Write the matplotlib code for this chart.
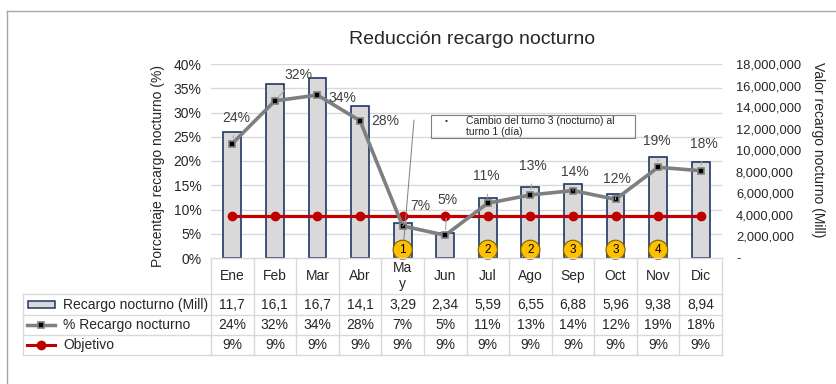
import numpy as np
import matplotlib
matplotlib.use("Agg")
import matplotlib.pyplot as plt
from matplotlib.lines import Line2D
from matplotlib.patches import Rectangle
from matplotlib.ticker import PercentFormatter, FuncFormatter
from matplotlib.transforms import blended_transform_factory

plt.rcParams['font.family'] = ['Liberation Sans', 'DejaVu Sans']

# datos
meses = ["Ene", "Feb", "Mar", "Abr", "Ma\ny", "Jun", "Jul", "Ago", "Sep", "Oct", "Nov", "Dic"]
recargo_mill = [11.7, 16.1, 16.7, 14.1, 3.29, 2.34, 5.59, 6.55, 6.88, 5.96, 9.38, 8.94]
pct_recargo = [0.236, 0.324, 0.336, 0.283, 0.066, 0.047, 0.113, 0.130, 0.139, 0.121, 0.187, 0.180]
objetivo = [0.087] * 12
# etapas marcadas con circulos (mes, numero)
etapas_mes = [4, 6, 7, 8, 9, 10]
etapas_num = ["1", "2", "2", "3", "3", "4"]
nota = "Cambio del turno 3 (nocturno) al\nturno 1 (día)"

# posicion de las etiquetas de % (pixeles) y si llevan linea guia
lbl_off = [(4, 26), (24, 26), (25, -3), (25, 0), (18, 20), (2, 35),
           (-1, 27), (3, 29), (2, 19), (1, 20), (-1, 26), (3, 27)]
lbl_guia = [True, True, False, False, True, True, True, True, True, True, True, True]

W, H = 836, 384
fig = plt.figure(figsize=(W / 100, H / 100), dpi=100)
fig.patch.set_facecolor("white")

def fx(px):
    return px / W

def fy(py):
    return 1 - py / H

ax2 = fig.add_axes([fx(211), fy(258), fx(722) - fx(211), fy(64) - fy(258)])
ax = ax2.twinx()
ax.set_position(ax2.get_position())
ax.set_zorder(ax2.get_zorder() + 1)
ax.patch.set_visible(False)

x = np.arange(len(meses))
txt = "#262626"

# barras en el eje derecho
valores = np.array(recargo_mill) * 1e6
ax2.set_ylim(0, 18e6)
for g in np.arange(0.05, 0.41, 0.05):
    ax2.axhline(g * 18e6 / 0.40, color="#D9D9D9", lw=1, zorder=0)
ax2.bar(x, valores, width=0.42, color="#D9D9D9", edgecolor="#203864", lw=1.2, zorder=2)
ax2.set_xlim(-0.5, 11.5)
ax2.yaxis.tick_right()
ax2.set_yticks(np.arange(0, 18e6 + 1, 2e6))
ax2.yaxis.set_major_formatter(FuncFormatter(lambda v, _: "-" if v == 0 else f"{v:,.0f}"))
ax2.tick_params(axis="y", length=0, pad=10, labelsize=9.3, labelcolor=txt,
                left=False, labelleft=False, right=False, labelright=True)
ax2.set_xticks([])

# lineas en el eje izquierdo
ax.set_ylim(0, 0.40)
ax.set_xlim(-0.5, 11.5)
ax.plot(x, objetivo, color="#C00000", lw=2.3, marker="o", ms=6, zorder=3)
ax.plot(x, pct_recargo, color="#7F7F7F", lw=2.6, marker="s", ms=5,
        mfc="black", mec="#7F7F7F", mew=1.2, zorder=4)
ax.yaxis.tick_left()
ax.set_yticks(np.arange(0, 0.41, 0.05))
ax.yaxis.set_major_formatter(PercentFormatter(1.0, decimals=0))
ax.tick_params(axis="y", length=0, pad=7, labelsize=10, labelcolor=txt,
               left=False, labelleft=True, right=False, labelright=False)
ax.set_xticks([])
for a in (ax, ax2):
    for s in a.spines.values():
        s.set_visible(False)

# etiquetas de datos
for i, p in enumerate(pct_recargo):
    props = None
    if lbl_guia[i]:
        props = dict(arrowstyle="-", color="#A6A6A6", lw=0.8, shrinkA=6, shrinkB=4)
    ax.annotate(f"{p:.0%}", (x[i], p), xytext=lbl_off[i], textcoords="offset pixels",
                ha="center", va="center", fontsize=10, color="#404040",
                arrowprops=props, zorder=5)

# circulos de etapas
for m, n in zip(etapas_mes, etapas_num):
    ax.text(x[m], 0.017, n, ha="center", va="center", fontsize=8.5, color="black",
            zorder=6, bbox=dict(boxstyle="circle,pad=0.3", fc="#FFC000", ec="#7F6000", lw=0.8))

# nota con linea guia
fig.patches.append(Rectangle((fx(431), fy(138)), fx(635) - fx(431), fy(115) - fy(138),
                             transform=fig.transFigure, fill=False, ec="#7F7F7F", lw=0.8))
fig.text(fx(446), fy(121), "•", fontsize=6, ha="center", va="center", color=txt)
fig.text(fx(466), fy(126.5), nota, fontsize=7.5, ha="left", va="center",
         color=txt, linespacing=1.05)
ax.annotate("", xy=(x[4], 0.006), xycoords="data", xytext=(fx(414), fy(120)),
            textcoords="figure fraction",
            arrowprops=dict(arrowstyle="-", color="#7F7F7F", lw=0.7, shrinkA=0, shrinkB=0))

# tabla de datos bajo el eje
tr = blended_transform_factory(ax.transData, ax.transAxes)
trf = blended_transform_factory(fig.transFigure, ax.transAxes)
grid_c = "#D9D9D9"
filas = [0.0, -0.1856, -0.294, -0.397, -0.5]
for k, yy in enumerate(filas):
    x0 = fx(211) if k == 0 else fx(23)
    fig.lines.append(Line2D([x0, fx(722)], [yy, yy], transform=trf, color=grid_c, lw=1))
for c in np.arange(-0.5, 12, 1):
    fig.lines.append(Line2D([c, c], [0, -0.5], transform=tr, color=grid_c, lw=1))
fig.lines.append(Line2D([fx(23), fx(23)], [filas[1], filas[4]], transform=trf,
                        color=grid_c, lw=1))

yc = [-0.093, -0.240, -0.345, -0.448]
for i, m in enumerate(meses):
    ax.text(x[i], yc[0], m, transform=tr, ha="center", va="center", fontsize=10,
            color=txt, linespacing=1.2, clip_on=False)
    ax.text(x[i], yc[1], f"{recargo_mill[i]:.3g}".replace(".", ","), transform=tr,
            ha="center", va="center", fontsize=10, color=txt, clip_on=False)
    ax.text(x[i], yc[2], f"{pct_recargo[i]:.0%}", transform=tr,
            ha="center", va="center", fontsize=10, color=txt, clip_on=False)
    ax.text(x[i], yc[3], f"{objetivo[i]:.0%}", transform=tr,
            ha="center", va="center", fontsize=10, color=txt, clip_on=False)

# leyenda dentro de la tabla
nombres = ["Recargo nocturno (Mill)", "% Recargo nocturno", "Objetivo"]
for yy, nom in zip(yc[1:], nombres):
    fig.text(fx(63), yy, nom, transform=trf, ha="left", va="center", fontsize=10, color=txt)
fig.patches.append(Rectangle((fx(28), yc[1] - 0.017), fx(55) - fx(28), 0.034,
                             transform=trf, fc="#D9D9D9", ec="#203864", lw=1.1))
fig.lines.append(Line2D([fx(27), fx(55)], [yc[2], yc[2]], transform=trf, color="#7F7F7F",
                        lw=2.5))
fig.lines.append(Line2D([fx(41)], [yc[2]], transform=trf, marker="s", ms=5, mfc="black",
                        mec="#7F7F7F", mew=1.2, ls="none"))
fig.lines.append(Line2D([fx(27), fx(55)], [yc[3], yc[3]], transform=trf, color="#C00000",
                        lw=2.2))
fig.lines.append(Line2D([fx(41)], [yc[3]], transform=trf, marker="o", ms=6,
                        color="#C00000", ls="none"))

# titulos
fig.text(fx(472), fy(40), "Reducción recargo nocturno", ha="center", va="center",
         fontsize=14, color=txt)
fig.text(fx(158), fy(166), "Porcentaje recargo nocturno (%)", rotation=90,
         ha="center", va="center", fontsize=10, color=txt)
fig.text(fx(818), fy(150), "Valor recargo nocturno (Mill)", rotation=270,
         ha="center", va="center", fontsize=10, color=txt)

# marco exterior
fig.lines.append(Line2D([fx(7), fx(7)], [0, fy(11)], transform=fig.transFigure,
                        color="#A6A6A6", lw=1))
fig.lines.append(Line2D([fx(7), 1], [fy(11), fy(11)], transform=fig.transFigure,
                        color="#A6A6A6", lw=1))

fig.savefig("out.png", dpi=100)
